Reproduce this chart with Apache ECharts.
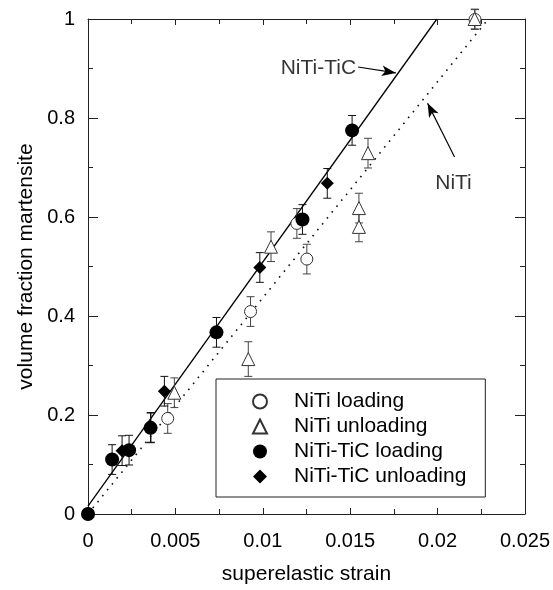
<!DOCTYPE html>
<html>
<head>
<meta charset="utf-8">
<script src="https://cdn.jsdelivr.net/npm/echarts@6/dist/echarts.min.js"></script>
<style>
html,body{margin:0;padding:0;background:#fff;}
#chart{width:553px;height:590px;}
</style>
</head>
<body>
<div id="chart"></div>
<script>
// ---- data ----
var nitiLoadX = [0, 0.00456, 0.0093, 0.01195, 0.01252, 0.02214];
var nitiLoadY = [0, 0.193, 0.409, 0.587, 0.515, 0.999];
var nitiLoadErr = [0, 0.03, 0.03, 0.03, 0.03, 0.02];

var nitiUnloadX = [0.00494, 0.00917, 0.01047, 0.0155, 0.0155, 0.01602, 0.02212];
var nitiUnloadY = [0.245, 0.313, 0.540, 0.618, 0.58, 0.729, 1.0];
var nitiUnloadErr = [0.03, 0.035, 0.03, 0.03, 0.03, 0.03, 0.02];

var ticLoadX = [0, 0.00138, 0.00235, 0.00358, 0.00735, 0.01227, 0.01511];
var ticLoadY = [0, 0.110, 0.129, 0.174, 0.367, 0.595, 0.775];
var ticLoadErr = [0, 0.03, 0.03, 0.03, 0.03, 0.03, 0.03];

var ticUnloadX = [0.00195, 0.0036, 0.00437, 0.00983, 0.01369];
var ticUnloadY = [0.128, 0.175, 0.248, 0.498, 0.668];
var ticUnloadErr = [0.03, 0.03, 0.03, 0.03, 0.03];

var ticFitX = [0, 0.01996];
var ticFitY = [0.016, 1];
var nitiFitX = [0, 0.0229];
var nitiFitY = [0, 1];

var xTicks = [0, 0.005, 0.01, 0.015, 0.02, 0.025];
var yTicks = [0, 0.2, 0.4, 0.6, 0.8, 1];

var annoText = ['NiTi-TiC', 'NiTi'];
var annoTextX = [0.01318, 0.02091];
var annoTextY = [0.901, 0.668];
var annoFromX = [0.01545, 0.02097];
var annoFromY = [0.903, 0.721];
var annoToX = [0.01761, 0.01943];
var annoToY = [0.891, 0.830];

var seriesNames = ['NiTi loading', 'NiTi unloading', 'NiTi-TiC loading', 'NiTi-TiC unloading'];

// ---- build ----
function zip(xs, ys, es) {
  return xs.map(function (x, i) { return es ? [x, ys[i], es[i]] : [x, ys[i]]; });
}
function errSeries(xs, ys, es, color) {
  return {
    type: 'custom',
    silent: true,
    z: 3,
    data: zip(xs, ys, es),
    renderItem: function (params, api) {
      var x = api.value(0), y = api.value(1), e = api.value(2);
      if (!e) return null;
      var top = api.coord([x, y + e]);
      var bot = api.coord([x, y - e]);
      var hw = 4;
      var st = { stroke: color, lineWidth: 1 };
      return {
        type: 'group',
        children: [
          { type: 'line', shape: { x1: top[0], y1: top[1], x2: bot[0], y2: bot[1] }, style: st },
          { type: 'line', shape: { x1: top[0] - hw, y1: top[1], x2: top[0] + hw, y2: top[1] }, style: st },
          { type: 'line', shape: { x1: bot[0] - hw, y1: bot[1], x2: bot[0] + hw, y2: bot[1] }, style: st }
        ]
      };
    }
  };
}

var font = 'Liberation Sans, Arial, Helvetica, sans-serif';
var axisColor = '#222';

function xAx(pos, show) {
  return {
    type: 'value', position: pos, min: 0, max: 0.025, interval: 0.005,
    axisLine: { show: true, onZero: false, lineStyle: { color: axisColor, width: 1 } },
    axisTick: { show: true, inside: true, length: 6, lineStyle: { color: axisColor } },
    minorTick: { show: true, splitNumber: 2, length: 5, lineStyle: { color: axisColor } },
    axisLabel: { show: show, fontSize: 20, color: '#000', fontFamily: font, margin: 17,
      formatter: function (v) { return String(+v.toFixed(4)); } },
    splitLine: { show: false },
    name: show ? 'superelastic strain' : '',
    nameLocation: 'middle', nameGap: 50,
    nameTextStyle: { fontSize: 21, color: '#000', fontFamily: font }
  };
}
function yAx(pos, show) {
  return {
    type: 'value', position: pos, min: 0, max: 1, interval: 0.2,
    axisLine: { show: true, onZero: false, lineStyle: { color: axisColor, width: 1 } },
    axisTick: { show: true, inside: true, length: 10, lineStyle: { color: axisColor } },
    minorTick: { show: true, splitNumber: 2, length: 5, lineStyle: { color: axisColor } },
    axisLabel: { show: show, fontSize: 20, color: '#000', fontFamily: font, margin: 13,
      formatter: function (v) { return String(+v.toFixed(2)); } },
    splitLine: { show: false },
    name: show ? 'volume fraction martensite' : '',
    nameLocation: 'middle', nameGap: 46,
    nameTextStyle: { fontSize: 21, color: '#000', fontFamily: font }
  };
}

var annoLines = annoFromX.map(function (x, i) {
  return [
    { coord: [x, annoFromY[i]], symbol: 'none' },
    { coord: [annoToX[i], annoToY[i]], symbol: 'arrow', symbolSize: [8, 14] }
  ];
});

var option = {
  animation: false,
  backgroundColor: '#fff',
  textStyle: { fontFamily: font },
  grid: { left: 88, right: 25, top: 19, bottom: 76, containLabel: false },
  xAxis: [xAx('bottom', true), xAx('top', false)],
  yAxis: [yAx('left', true), yAx('right', false)],
  legend: {
    show: true,
    data: seriesNames,
    orient: 'vertical',
    left: 216, top: 379,
    itemWidth: 14, itemHeight: 14, itemGap: 4,
    padding: [12, 19, 10, 36],
    borderColor: '#222', borderWidth: 1, backgroundColor: '#fff',
    textStyle: { fontSize: 21, color: '#000', fontFamily: font, lineHeight: 21, padding: [0, 0, 0, 22] }
  },
  series: [
    {
      type: 'line', data: zip(ticFitX, ticFitY), symbol: 'none', silent: true, z: 1,
      lineStyle: { color: '#000', width: 1.3 },
      markLine: {
        silent: true, animation: false,
        lineStyle: { color: '#000', width: 1.2, type: 'solid' },
        label: { show: false },
        data: annoLines
      }
    },
    {
      type: 'line', data: zip(nitiFitX, nitiFitY), symbol: 'none', silent: true, z: 1,
      lineStyle: { color: '#111', width: 1.6, type: [1.6, 6] }
    },
    {
      type: 'scatter', data: zip(annoTextX, annoTextY), symbolSize: 0, silent: true,
      label: { show: true, position: 'inside', fontSize: 21, color: '#000', fontFamily: font,
        formatter: function (p) { return annoText[p.dataIndex]; } }
    },
    errSeries(nitiLoadX, nitiLoadY, nitiLoadErr, '#444'),
    errSeries(nitiUnloadX, nitiUnloadY, nitiUnloadErr, '#444'),
    errSeries(ticLoadX, ticLoadY, ticLoadErr, '#111'),
    errSeries(ticUnloadX, ticUnloadY, ticUnloadErr, '#111'),
    {
      name: seriesNames[0], type: 'scatter', data: zip(nitiLoadX, nitiLoadY), z: 5,
      symbol: 'circle', symbolSize: 12,
      itemStyle: { color: '#fff', borderColor: '#333', borderWidth: 1, opacity: 1 }
    },
    {
      name: seriesNames[1], type: 'scatter', data: zip(nitiUnloadX, nitiUnloadY), z: 5,
      symbol: 'triangle', symbolSize: 13,
      itemStyle: { color: '#fff', borderColor: '#333', borderWidth: 1, opacity: 1 }
    },
    {
      name: seriesNames[2], type: 'scatter', data: zip(ticLoadX, ticLoadY), z: 6,
      symbol: 'circle', symbolSize: 14,
      itemStyle: { color: '#000', opacity: 1 }
    },
    {
      name: seriesNames[3], type: 'scatter', data: zip(ticUnloadX, ticUnloadY), z: 6,
      symbol: 'diamond', symbolSize: 13,
      itemStyle: { color: '#000', opacity: 1 }
    }
  ]
};

var chart = echarts.init(document.getElementById('chart'), null, { renderer: 'canvas' });
chart.setOption(option);
</script>
</body>
</html>
